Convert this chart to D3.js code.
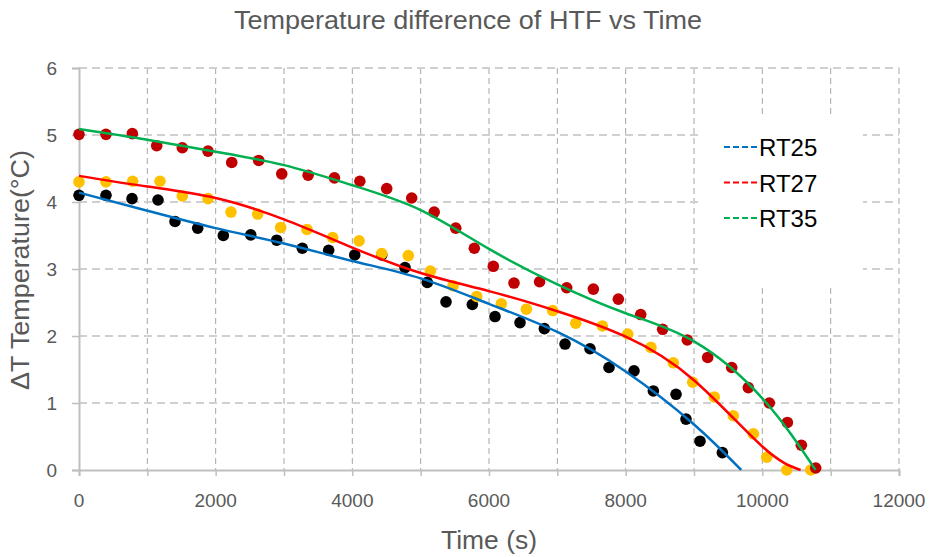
<!DOCTYPE html>
<html>
<head>
<meta charset="utf-8">
<script src="https://cdn.jsdelivr.net/npm/d3@7"></script>
<style>
  body { margin: 0; background: #fff; }
  text { font-family: "Liberation Sans", Arial, sans-serif; }
</style>
</head>
<body>
<div id="chart"></div>
<script>
// measured points (time s, delta T)
const rt25Points = [[0,4.10],[395,4.10],[776,4.05],[1156,4.03],[1405,3.71],[1737,3.61],[2112,3.50],[2513,3.51],[2893,3.43],[3268,3.31],[3654,3.28],[4035,3.21],[4430,3.21],[4771,3.02],[5097,2.80],[5371,2.51],[5756,2.47],[6088,2.29],[6454,2.20],[6810,2.11],[7113,1.88],[7478,1.81],[7756,1.53],[8122,1.48],[8405,1.18],[8737,1.13],[8883,0.76],[9088,0.43],[9415,0.26]];
const rt27Points = [[0,4.30],[395,4.30],[785,4.31],[1185,4.31],[1512,4.09],[1888,4.05],[2224,3.85],[2615,3.82],[2951,3.62],[3336,3.59],[3712,3.47],[4099,3.42],[4430,3.23],[4819,3.20],[5142,2.97],[5474,2.75],[5820,2.59],[6180,2.48],[6547,2.40],[6932,2.38],[7269,2.19],[7658,2.15],[8030,2.03],[8370,1.83],[8697,1.60],[8981,1.31],[9297,1.09],[9575,0.81],[9868,0.54],[10064,0.19],[10357,0.0],[10708,0.0]];
const rt35Points = [[0,5.01],[395,5.01],[780,5.02],[1137,4.84],[1512,4.81],[1888,4.76],[2235,4.59],[2630,4.62],[2967,4.42],[3353,4.40],[3738,4.36],[4110,4.31],[4503,4.20],[4869,4.06],[5198,3.85],[5513,3.61],[5785,3.31],[6063,3.04],[6366,2.79],[6740,2.81],[7137,2.72],[7527,2.70],[7893,2.55],[8220,2.32],[8541,2.10],[8902,1.94],[9200,1.68],[9552,1.53],[9795,1.23],[10102,1.00],[10366,0.71],[10571,0.37],[10781,0.03]];

// trend curves
const rt25Fit = [[0,4.14],[1000,3.87],[2000,3.61],[3000,3.38],[4000,3.12],[5000,2.86],[6000,2.48],[7000,2.06],[8000,1.47],[9000,0.68],[9690,0]];
const rt27Fit = [[0,4.39],[1000,4.23],[2000,4.06],[3000,3.74],[4000,3.32],[5000,2.94],[6000,2.67],[7000,2.37],[8000,1.99],[9000,1.34],[10000,0.35],[10560,0]];
const rt35Fit = [[0,5.09],[1000,4.93],[2000,4.75],[3000,4.55],[4000,4.25],[5000,3.88],[6000,3.30],[7000,2.77],[8000,2.34],[9000,1.92],[10000,1.07],[10780,0]];

const legendNames = ['RT25', 'RT27', 'RT35'];
const xTicks = [0, 2000, 4000, 6000, 8000, 10000, 12000];
const xGrid = d3.range(0, 12001, 1000);
const yTicks = [0, 1, 2, 3, 4, 5, 6];

const series = [
  { name: 'RT25', points: rt25Points, fit: rt25Fit, dot: '#000000', line: '#0070C0' },
  { name: 'RT27', points: rt27Points, fit: rt27Fit, dot: '#FFC000', line: '#FF0000' },
  { name: 'RT35', points: rt35Points, fit: rt35Fit, dot: '#C00000', line: '#00B050' }
];

const W = 936, H = 557;
const margin = { top: 68, right: 37, bottom: 87, left: 79 };
const width = W - margin.left - margin.right;
const height = H - margin.top - margin.bottom;

const svg = d3.select('#chart').append('svg')
  .attr('width', W)
  .attr('height', H);

const x = d3.scaleLinear().domain([0, 12000]).range([0, width]);
const y = d3.scaleLinear().domain([0, 6]).range([height, 0]);

const g = svg.append('g').attr('transform', `translate(${margin.left},${margin.top})`);

// --- Grid ---
g.append('g').selectAll('line')
  .data(xGrid.filter(d => d > 0))
  .enter().append('line')
  .attr('x1', d => x(d)).attr('x2', d => x(d))
  .attr('y1', 0).attr('y2', height)
  .attr('stroke', '#a6a6a6')
  .attr('stroke-width', 1)
  .attr('stroke-dasharray', '6,4');

g.append('g').selectAll('line')
  .data(yTicks.filter(d => d > 0))
  .enter().append('line')
  .attr('x1', 0).attr('x2', width)
  .attr('y1', d => y(d)).attr('y2', d => y(d))
  .attr('stroke', '#d0d0d0')
  .attr('stroke-width', 2)
  .attr('stroke-dasharray', '8,5');

// --- Axes ---
const xAxis = g.append('g')
  .attr('transform', `translate(0,${height})`)
  .call(d3.axisBottom(x).tickValues(xGrid).tickSize(6).tickFormat(''));
xAxis.select('.domain').attr('stroke', '#bfbfbf').attr('stroke-width', 2);
xAxis.selectAll('.tick line').attr('stroke', '#bfbfbf').attr('stroke-width', 1.5);

g.append('g').selectAll('text')
  .data(xTicks)
  .enter().append('text')
  .attr('x', d => x(d))
  .attr('y', height + 37)
  .attr('text-anchor', 'middle')
  .style('font-size', '19px')
  .style('fill', '#595959')
  .text(d => d);

const yAxis = g.append('g')
  .call(d3.axisLeft(y).tickValues(yTicks).tickSize(7).tickFormat(''));
yAxis.select('.domain').attr('stroke', '#bfbfbf').attr('stroke-width', 2);
yAxis.selectAll('.tick line').attr('stroke', '#bfbfbf').attr('stroke-width', 1.5);

g.append('g').selectAll('text')
  .data(yTicks)
  .enter().append('text')
  .attr('x', -22)
  .attr('y', d => y(d))
  .attr('dy', '0.36em')
  .attr('text-anchor', 'end')
  .style('font-size', '19px')
  .style('fill', '#595959')
  .text(d => d);

// --- Dots ---
series.forEach(s => {
  g.append('g').selectAll('circle')
    .data(s.points)
    .enter().append('circle')
    .attr('cx', d => x(d[0]))
    .attr('cy', d => y(d[1]))
    .attr('r', 5.8)
    .attr('fill', s.dot);
});

// --- Trend lines ---
const line = d3.line()
  .x(d => x(d[0]))
  .y(d => y(d[1]))
  .curve(d3.curveNatural);

series.forEach(s => {
  g.append('path')
    .datum(s.fit)
    .attr('d', line)
    .attr('fill', 'none')
    .attr('stroke', s.line)
    .attr('stroke-width', 2.5);
});

// --- Legend box ---
svg.append('rect')
  .attr('x', 702).attr('y', 114)
  .attr('width', 161).attr('height', 173)
  .attr('fill', '#fff');

const legend = svg.append('g').attr('transform', 'translate(724,147)');
series.forEach((s, i) => {
  const row = legend.append('g').attr('transform', `translate(0,${i * 35.5})`);
  row.append('line')
    .attr('x1', 0).attr('x2', 34)
    .attr('y1', 0).attr('y2', 0)
    .attr('stroke', s.line)
    .attr('stroke-width', 2)
    .attr('stroke-dasharray', '6,3');
  row.append('text')
    .attr('x', 35)
    .attr('y', 9)
    .style('font-size', '24px')
    .style('fill', '#000')
    .text(legendNames[i]);
});

// --- Titles ---
svg.append('text')
  .attr('x', 468).attr('y', 29)
  .attr('text-anchor', 'middle')
  .attr('textLength', 468)
  .attr('lengthAdjust', 'spacingAndGlyphs')
  .style('font-size', '25px')
  .style('fill', '#595959')
  .text('Temperature difference of HTF vs Time');

svg.append('text')
  .attr('x', margin.left + width / 2).attr('y', 549)
  .attr('text-anchor', 'middle')
  .attr('textLength', 96)
  .attr('lengthAdjust', 'spacingAndGlyphs')
  .style('font-size', '25px')
  .style('fill', '#595959')
  .text('Time (s)');

svg.append('text')
  .attr('transform', 'translate(29,270) rotate(-90)')
  .attr('text-anchor', 'middle')
  .attr('textLength', 240)
  .attr('lengthAdjust', 'spacingAndGlyphs')
  .style('font-size', '25px')
  .style('fill', '#595959')
  .text('ΔT Temperature(°C)');
</script>
</body>
</html>
